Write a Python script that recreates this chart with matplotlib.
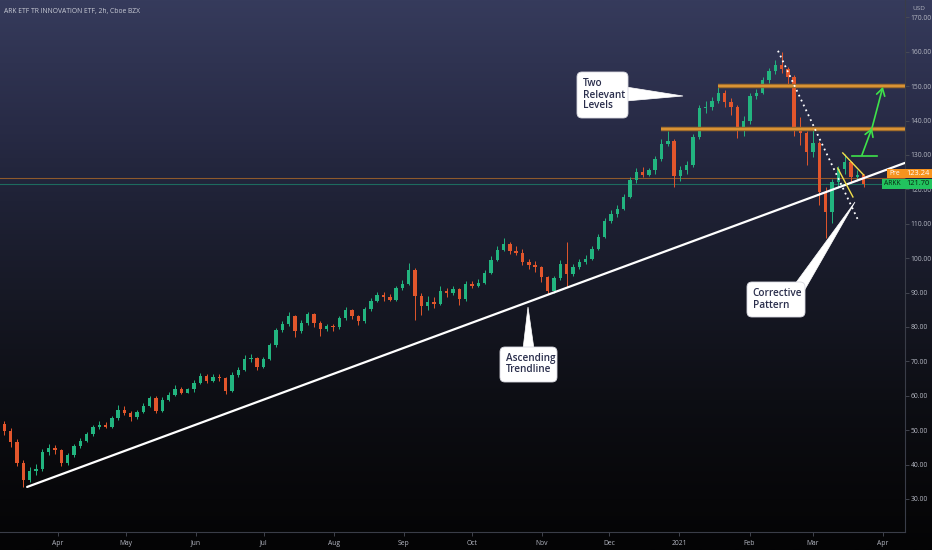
import matplotlib
matplotlib.use('Agg')
import matplotlib.pyplot as plt
import matplotlib.dates as mdates
import matplotlib.transforms as mtransforms
from matplotlib import font_manager as fm
from matplotlib.patches import Polygon, FancyBboxPatch, Rectangle
import numpy as np
import pandas as pd

W, H = 932, 550

# ARKK 2h chart, every other session
first_open = 53.0
close = [51.9, 49.9, 46.5, 40.4, 35.5, 38.0, 38.7, 43.6, 44.7, 44.1,
         40.4, 42.7, 45.3, 47.0, 48.8, 50.8, 51.6, 51.0, 53.4, 56.0,
         55.1, 53.7, 55.4, 57.1, 59.4, 55.7, 58.9, 60.3, 62.0, 60.9,
         62.0, 63.8, 65.8, 64.4, 65.5, 65.2, 61.5, 66.1, 67.5, 70.7,
         71.0, 68.4, 70.7, 74.7, 79.1, 80.8, 83.1, 78.8, 81.1, 83.7,
         81.1, 79.4, 80.2, 79.9, 82.5, 84.8, 83.1, 81.7, 85.1, 87.7,
         89.2, 88.6, 87.9, 91.2, 92.6, 96.7, 88.9, 86.0, 87.4, 86.8,
         90.6, 90.0, 90.9, 88.0, 92.4, 91.8, 92.9, 95.8, 99.6, 102.5,
         104.2, 102.2, 101.6, 99.0, 98.1, 97.3, 94.4, 90.6, 94.1, 98.4,
         95.5, 97.3, 99.0, 99.9, 102.7, 106.2, 110.8, 112.9, 114.3, 117.8,
         122.7, 125.0, 124.2, 125.6, 128.7, 133.3, 134.2, 123.8, 125.6, 127.0,
         135.1, 143.7, 144.0, 145.8, 148.1, 145.5, 144.0, 138.2, 140.0, 147.2,
         148.1, 151.8, 154.4, 156.2, 155.0, 152.7, 138.0, 136.5, 130.8, 133.6,
         119.2, 113.4, 122.1, 125.8, 127.9, 123.5, 124.1, 121.7]
high = [54.5, 52.8, 50.6, 47.3, 41.2, 39.4, 40.2, 44.6, 46.0, 45.6,
        44.6, 43.5, 46.0, 47.8, 49.6, 51.5, 52.6, 52.4, 54.1, 57.2,
        57.0, 55.6, 56.0, 57.9, 60.0, 59.9, 59.6, 61.0, 63.2, 62.6,
        62.4, 64.5, 66.6, 66.2, 66.3, 66.4, 65.6, 66.8, 68.3, 71.8,
        72.2, 71.4, 71.4, 75.4, 79.8, 81.6, 84.5, 83.6, 81.9, 84.4,
        84.1, 81.6, 81.0, 80.9, 83.2, 85.7, 85.3, 83.6, 85.9, 88.5,
        90.1, 90.2, 89.6, 92.0, 93.8, 98.6, 97.2, 89.8, 88.9, 88.6,
        92.0, 91.2, 92.0, 91.4, 93.3, 93.5, 94.0, 96.6, 100.5, 103.5,
        105.8, 104.8, 103.6, 102.7, 99.9, 99.2, 97.8, 94.9, 94.8, 99.4,
        104.6, 98.2, 99.8, 100.8, 103.4, 107.0, 111.6, 113.9, 115.4, 118.8,
        123.6, 126.2, 126.5, 126.3, 129.8, 134.6, 137.0, 134.6, 126.8, 128.2,
        136.0, 144.6, 145.6, 147.0, 150.0, 148.8, 146.6, 144.5, 141.2, 147.9,
        149.2, 152.6, 155.4, 157.6, 160.0, 155.6, 153.2, 141.0, 137.0, 137.8,
        134.0, 120.6, 123.0, 126.8, 130.2, 128.4, 125.6, 124.6]
low = [50.5, 48.6, 45.2, 39.5, 33.5, 34.8, 36.9, 38.2, 42.8, 43.0,
       39.6, 40.0, 42.3, 44.9, 46.5, 48.3, 50.2, 50.6, 50.7, 53.0,
       54.5, 52.6, 53.2, 55.0, 56.8, 54.9, 55.3, 58.4, 59.9, 60.5,
       60.8, 61.2, 63.5, 63.8, 64.0, 64.3, 60.4, 61.2, 65.6, 67.1,
       69.8, 67.6, 68.0, 70.3, 74.3, 78.5, 80.4, 77.2, 78.3, 80.7,
       80.0, 77.3, 78.8, 78.9, 79.5, 82.1, 82.3, 80.6, 81.3, 84.7,
       87.3, 87.7, 87.6, 87.5, 90.7, 92.2, 82.0, 83.5, 84.8, 85.6,
       86.4, 88.6, 89.3, 86.4, 87.6, 91.3, 91.7, 92.5, 95.4, 99.2,
       102.0, 101.2, 100.8, 98.0, 97.0, 96.1, 93.2, 89.5, 90.0, 93.7,
       91.5, 94.8, 96.8, 98.4, 99.5, 102.3, 105.8, 110.2, 112.1, 113.9,
       117.4, 121.8, 123.6, 123.8, 124.6, 128.3, 132.5, 120.6, 122.5, 124.6,
       126.6, 134.7, 142.1, 143.2, 145.2, 144.0, 141.5, 134.8, 135.5, 139.0,
       146.3, 147.7, 151.0, 153.5, 153.8, 150.5, 135.4, 132.8, 127.2, 129.5,
       115.5, 105.8, 110.2, 120.5, 124.5, 121.8, 122.3, 120.8]
bar_dates = pd.date_range('2020-03-05 12:00', '2021-03-23 12:00', periods=len(close))

month_ticks = pd.date_range('2020-04-01', '2021-04-01', freq='MS')
month_labels = ['Apr', 'May', 'Jun', 'Jul', 'Aug', 'Sep', 'Oct', 'Nov', 'Dec',
                '2021', 'Feb', 'Mar', 'Apr']
price_ticks = list(range(30, 171, 10))

# drawings on the chart
level_prices = [150.0, 137.6]
level_starts = ['2021-01-18', '2020-12-24']
pre_price = 123.24
last_price = 121.70
trend_line = (['2020-03-18 08:00', '2021-04-10 18:00'], [33.5, 127.7])
down_line = (['2021-02-13 14:00', '2021-03-21 00:00'], [160.3, 111.1])
wedge_upper = (['2021-03-14 06:00', '2021-03-23 12:00'], [130.6, 124.2])
wedge_lower = (['2021-03-12 00:00', '2021-03-18 18:00'], [126.2, 117.8])
target_base = (['2021-03-18 08:00', '2021-03-29 10:00'], [129.8, 129.8])
target_arrows = [(('2021-03-22 18:00', 130.0), ('2021-03-27 05:00', 137.9)),
                 (('2021-03-27 05:00', 137.9), ('2021-04-01 00:00', 149.8))]

up_col = '#22b47f'
down_col = '#e2562c'
axis_txt = '#b4b7c2'


def have_font(name):
    try:
        fm.findfont(fm.FontProperties(family=name), fallback_to_default=False)
        return True
    except Exception:
        return False


# a narrow face for the scale labels if one is installed
if have_font('Liberation Sans Narrow'):
    narrow, small = 'Liberation Sans Narrow', 5.6
else:
    narrow, small = 'Open Sans', 4.9
plt.rcParams['font.family'] = [narrow, 'DejaVu Sans']

fig = plt.figure(figsize=(W / 100, H / 100), dpi=100)

# background gradient, navy at the top fading to black
stops = np.array([0.0, 0.227, 0.364, 0.545, 0.727, 0.909, 1.0])
cols = np.array([[54, 59, 92], [40, 43, 70], [31, 34, 54], [22, 24, 36],
                 [13, 14, 20], [7, 7, 9], [4, 4, 5]]) / 255
t = np.linspace(0, 1, 400)
grad = np.stack([np.interp(t, stops, cols[:, i]) for i in range(3)], axis=-1)[:, None, :]
bg = fig.add_axes([0, 0, 1, 1], zorder=0)
bg.imshow(grad, aspect='auto', extent=[0, 1, 0, 1], origin='upper')
bg.axis('off')

ax = fig.add_axes([0, 18 / H, 905 / W, 532 / H], zorder=1)
ax.set_facecolor('none')

x = mdates.date2num(bar_dates)
opens = np.array([first_open] + close[:-1])
c = np.array(close)
colors = np.where(c >= opens, up_col, down_col)
ax.vlines(x, low, high, colors=colors, lw=0.7, zorder=3)
body = np.maximum(np.abs(c - opens), 0.25)
ax.bar(x, body, bottom=np.minimum(c, opens), width=1.5, color=colors, lw=0, zorder=3)

xl = (mdates.date2num(pd.Timestamp('2020-03-06 08:00')),
      mdates.date2num(pd.Timestamp('2021-04-10 19:00')))
ax.set_xlim(*xl)
ax.set_ylim(20.4, 175.06)

# horizontal lines
ax.axhline(pre_price, color='#8e5a2c', lw=0.8, zorder=2)
ax.axhline(last_price, color='#1d6b5e', lw=0.8, zorder=2)
for lvl, start in zip(level_prices, level_starts):
    s = mdates.date2num(pd.Timestamp(start))
    ax.hlines(lvl, s, xl[1], color='#9c6a2c', lw=3.2, zorder=4)
    ax.hlines(lvl, s, xl[1], color='#d99335', lw=1.6, zorder=4)


def dn(ds):
    return mdates.date2num(pd.to_datetime(ds))


ax.plot(dn(trend_line[0]), trend_line[1], color='white', lw=1.6, zorder=5,
        solid_capstyle='round')
ax.plot(dn(down_line[0]), down_line[1], color='white', lw=1.3, ls=(0, (1, 2)), zorder=5)
ax.plot(dn(wedge_upper[0]), wedge_upper[1], color='#f2e04a', lw=1.0, zorder=5)
ax.plot(dn(wedge_lower[0]), wedge_lower[1], color='#f2e04a', lw=1.0, zorder=5)
green = '#3ee24a'
ax.plot(dn(target_base[0]), target_base[1], color=green, lw=1.2, zorder=5)
for (t0, p0), (t1, p1) in target_arrows:
    ax.annotate('', xy=(dn(t1), p1), xytext=(dn(t0), p0), zorder=5,
                arrowprops=dict(arrowstyle='->,head_length=0.5,head_width=0.3',
                                color=green, lw=1.2, shrinkA=0, shrinkB=0))

# axes styling
for side in ['top', 'left']:
    ax.spines[side].set_visible(False)
for side in ['right', 'bottom']:
    ax.spines[side].set_color('#3a3d48')
    ax.spines[side].set_linewidth(0.8)
ax.yaxis.tick_right()
ax.set_yticks(price_ticks)
ax.set_yticklabels([f'{v:.2f}' for v in price_ticks])
ax.set_xticks(mdates.date2num(month_ticks))
ax.set_xticklabels(month_labels)
ax.tick_params(axis='y', colors='#4a4d58', labelcolor=axis_txt, labelsize=small,
               length=3, width=0.6, pad=1)
ax.tick_params(axis='x', colors='#4a4d58', labelcolor=axis_txt, labelsize=small,
               length=3, width=0.6, pad=2.5)

# pixel transform (origin top-left) for the callouts and price tags
pxt = mtransforms.Affine2D().scale(1 / W, -1 / H).translate(0, 1) + fig.transFigure

fig.text(4, 11, 'ARK ETF TR INNOVATION ETF, 2h, Cboe BZX', transform=pxt,
         fontsize=small, color='#c9ccd6', va='center', ha='left')
fig.text(912, 9, 'USD', transform=pxt, fontsize=small - 0.3, color=axis_txt, va='center')

callouts = [
    ('Two\nRelevant\nLevels', (577, 72, 51, 46), [(626, 87), (626, 101), (683, 96)]),
    ('Ascending\nTrendline', (500, 347, 57, 35), [(523, 349), (534, 349), (528, 307)]),
    ('Corrective\nPattern', (747, 282, 58, 35), [(795, 284), (804, 291), (855, 202)]),
]
for label, (bx, by, bw, bh), tri in callouts:
    ax.add_patch(Polygon(tri, closed=True, transform=pxt, fc='white', ec='white',
                         lw=0.5, zorder=8, clip_on=False))
    ax.add_patch(FancyBboxPatch((bx, by), bw, bh, boxstyle='round,pad=0,rounding_size=5',
                                transform=pxt, fc='white', ec='#d8d8e0', lw=0.6,
                                zorder=9, clip_on=False))
    ax.text(bx + 5.5, by + bh / 2, label, transform=pxt, fontsize=7.2,
            family=['Open Sans', 'DejaVu Sans'], fontweight='semibold',
            color='#2a2e4c', ha='left', va='center', linespacing=1.0,
            zorder=10, clip_on=False)

# price tags on the right scale
tags = [('Pre', pre_price, (887, 169, 45, 9), '#f7931e', 'white'),
        ('ARKK', last_price, (882, 179, 50, 9.5), '#22c35e', '#08250f')]
for name, val, (tx, ty, tw, th), fc, tc in tags:
    ax.add_patch(Rectangle((tx, ty), tw, th, transform=pxt, fc=fc, ec='none',
                           zorder=11, clip_on=False))
    ax.text(tx + 2.5, ty + th / 2, name, transform=pxt, fontsize=small, color=tc,
            va='center', ha='left', zorder=12, clip_on=False)
    ax.text(930, ty + th / 2, f'{val:.2f}', transform=pxt, fontsize=small + 0.5, color=tc,
            va='center', ha='right', zorder=12, clip_on=False)

fig.savefig('out.png', dpi=100)
